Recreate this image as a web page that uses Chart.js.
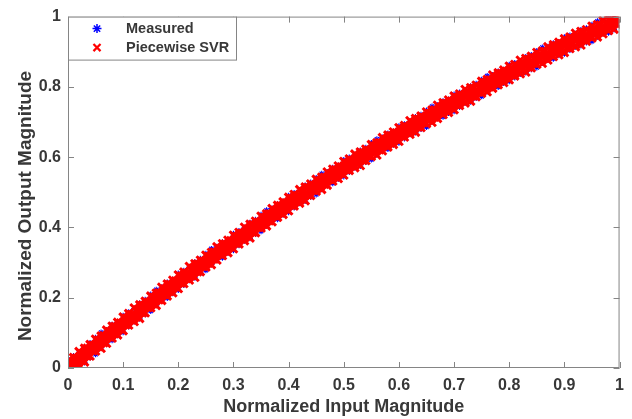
<!DOCTYPE html>
<html><head><meta charset="utf-8">
<script src="https://cdn.jsdelivr.net/npm/chart.js@4/dist/chart.umd.min.js"></script>
<style>html,body{margin:0;padding:0;background:#fff}#wrap{width:632px;height:419px}</style>
</head><body><div id="wrap"><canvas id="c" width="632" height="419"></canvas></div>
<script>
// ---- data ----
const inputMagnitude = [
0.00,0.01,0.02,0.03,0.04,0.05,0.06,0.07,0.08,0.09,
0.10,0.11,0.12,0.13,0.14,0.15,0.16,0.17,0.18,0.19,
0.20,0.21,0.22,0.23,0.24,0.25,0.26,0.27,0.28,0.29,
0.30,0.31,0.32,0.33,0.34,0.35,0.36,0.37,0.38,0.39,
0.40,0.41,0.42,0.43,0.44,0.45,0.46,0.47,0.48,0.49,
0.50,0.51,0.52,0.53,0.54,0.55,0.56,0.57,0.58,0.59,
0.60,0.61,0.62,0.63,0.64,0.65,0.66,0.67,0.68,0.69,
0.70,0.71,0.72,0.73,0.74,0.75,0.76,0.77,0.78,0.79,
0.80,0.81,0.82,0.83,0.84,0.85,0.86,0.87,0.88,0.89,
0.90,0.91,0.92,0.93,0.94,0.95,0.96,0.97,0.98,0.99];

const inputMagnitudeHalf = [
0.005,0.015,0.025,0.035,0.045,0.055,0.065,0.075,0.085,0.095,
0.105,0.115,0.125,0.135,0.145,0.155,0.165,0.175,0.185,0.195,
0.205,0.215,0.225,0.235,0.245,0.255,0.265,0.275,0.285,0.295,
0.305,0.315,0.325,0.335,0.345,0.355,0.365,0.375,0.385,0.395,
0.405,0.415,0.425,0.435,0.445,0.455,0.465,0.475,0.485,0.495,
0.505,0.515,0.525,0.535,0.545,0.555,0.565,0.575,0.585,0.595,
0.605,0.615,0.625,0.635,0.645,0.655,0.665,0.675,0.685,0.695,
0.705,0.715,0.725,0.735,0.745,0.755,0.765,0.775,0.785,0.795,
0.805,0.815,0.825,0.835,0.845,0.855,0.865,0.875,0.885,0.895,
0.905,0.915,0.925,0.935,0.945,0.955,0.965,0.975,0.985,0.995];

const measuredUpper = [
0.024,0.034,0.045,0.060,0.071,0.086,0.101,0.108,0.123,0.131,
0.149,0.159,0.169,0.184,0.194,0.209,0.223,0.230,0.243,0.251,
0.269,0.277,0.287,0.301,0.311,0.325,0.339,0.345,0.358,0.365,
0.382,0.390,0.399,0.413,0.422,0.436,0.449,0.454,0.467,0.474,
0.490,0.498,0.506,0.519,0.528,0.541,0.553,0.558,0.570,0.576,
0.592,0.599,0.607,0.619,0.627,0.640,0.651,0.656,0.667,0.673,
0.688,0.694,0.702,0.714,0.721,0.733,0.744,0.748,0.759,0.764,
0.778,0.784,0.791,0.802,0.809,0.820,0.831,0.834,0.844,0.849,
0.863,0.868,0.874,0.885,0.891,0.902,0.912,0.914,0.924,0.928,
0.941,0.946,0.951,0.962,0.967,0.977,0.987,0.989,0.995,0.997];

const measuredLower = [
0.000,0.001,0.008,0.016,0.030,0.039,0.057,0.071,0.079,0.093,
0.102,0.118,0.132,0.140,0.153,0.162,0.179,0.193,0.199,0.213,
0.222,0.236,0.250,0.257,0.270,0.278,0.295,0.308,0.314,0.327,
0.335,0.349,0.362,0.369,0.381,0.389,0.405,0.417,0.423,0.436,
0.443,0.457,0.469,0.475,0.487,0.494,0.509,0.521,0.526,0.538,
0.545,0.558,0.570,0.575,0.586,0.593,0.607,0.619,0.623,0.635,
0.641,0.653,0.665,0.670,0.680,0.686,0.700,0.711,0.715,0.726,
0.731,0.743,0.754,0.758,0.768,0.773,0.787,0.797,0.800,0.811,
0.816,0.827,0.837,0.841,0.850,0.855,0.868,0.877,0.880,0.890,
0.894,0.905,0.914,0.918,0.926,0.930,0.943,0.952,0.954,0.963];

const svrUpper = [
0.020,0.030,0.047,0.056,0.067,0.082,0.091,0.108,0.119,0.130,
0.145,0.155,0.171,0.180,0.190,0.205,0.213,0.230,0.239,0.250,
0.265,0.273,0.289,0.297,0.307,0.321,0.329,0.345,0.354,0.364,
0.378,0.386,0.401,0.409,0.418,0.432,0.439,0.454,0.463,0.473,
0.486,0.494,0.508,0.515,0.524,0.537,0.543,0.558,0.566,0.575,
0.588,0.595,0.609,0.615,0.623,0.636,0.641,0.656,0.663,0.672,
0.684,0.690,0.704,0.710,0.717,0.729,0.734,0.748,0.755,0.763,
0.774,0.780,0.793,0.798,0.805,0.816,0.821,0.834,0.840,0.848,
0.859,0.864,0.876,0.881,0.887,0.898,0.902,0.914,0.920,0.927,
0.937,0.942,0.953,0.958,0.963,0.973,0.977,0.989,0.993,0.996];

const svrMiddle = [
0.000,0.013,0.026,0.038,0.051,0.063,0.076,0.088,0.101,0.113,
0.125,0.138,0.150,0.162,0.174,0.186,0.198,0.210,0.221,0.233,
0.245,0.256,0.268,0.279,0.291,0.302,0.314,0.325,0.336,0.347,
0.358,0.369,0.380,0.391,0.402,0.413,0.424,0.434,0.445,0.456,
0.466,0.477,0.487,0.497,0.508,0.518,0.528,0.538,0.548,0.558,
0.568,0.578,0.588,0.597,0.607,0.617,0.626,0.636,0.645,0.655,
0.664,0.673,0.683,0.692,0.701,0.710,0.719,0.728,0.737,0.746,
0.754,0.763,0.772,0.780,0.789,0.797,0.806,0.814,0.822,0.831,
0.839,0.847,0.855,0.863,0.871,0.879,0.887,0.894,0.902,0.910,
0.917,0.925,0.932,0.940,0.947,0.954,0.962,0.969,0.976,0.983];

const svrLower = [
0.000,0.002,0.008,0.017,0.034,0.048,0.056,0.070,0.085,0.094,
0.106,0.122,0.132,0.141,0.157,0.171,0.178,0.192,0.205,0.214,
0.226,0.240,0.250,0.258,0.274,0.287,0.294,0.307,0.320,0.328,
0.339,0.353,0.362,0.370,0.385,0.398,0.404,0.416,0.429,0.437,
0.447,0.461,0.469,0.476,0.491,0.503,0.508,0.520,0.532,0.539,
0.549,0.562,0.570,0.576,0.590,0.602,0.606,0.618,0.629,0.636,
0.645,0.657,0.665,0.671,0.684,0.695,0.699,0.710,0.721,0.727,
0.735,0.747,0.754,0.759,0.772,0.782,0.786,0.796,0.806,0.812,
0.820,0.831,0.837,0.842,0.854,0.864,0.867,0.876,0.886,0.891,
0.898,0.909,0.914,0.919,0.930,0.939,0.942,0.951,0.960,0.964];

const svrInnerUpper = [
0.017,0.028,0.041,0.056,0.064,0.079,0.092,0.103,0.118,0.128,
0.142,0.152,0.165,0.179,0.187,0.201,0.214,0.224,0.238,0.248,
0.261,0.270,0.283,0.296,0.304,0.317,0.330,0.339,0.353,0.362,
0.374,0.383,0.395,0.408,0.415,0.428,0.439,0.448,0.462,0.470,
0.482,0.490,0.501,0.514,0.520,0.532,0.543,0.551,0.564,0.572,
0.583,0.591,0.602,0.613,0.619,0.631,0.641,0.649,0.661,0.669,
0.679,0.686,0.697,0.708,0.713,0.724,0.734,0.741,0.753,0.759,
0.769,0.776,0.785,0.796,0.800,0.811,0.820,0.826,0.838,0.844,
0.853,0.859,0.868,0.878,0.882,0.892,0.901,0.906,0.917,0.923,
0.931,0.937,0.945,0.955,0.958,0.967,0.976,0.981,0.991,0.996];

const svrInnerLower = [
0.000,0.013,0.022,0.034,0.049,0.061,0.072,0.088,0.098,0.111,
0.123,0.137,0.146,0.157,0.172,0.183,0.194,0.209,0.218,0.231,
0.242,0.255,0.264,0.274,0.289,0.299,0.310,0.324,0.333,0.345,
0.355,0.368,0.376,0.386,0.400,0.410,0.419,0.433,0.442,0.453,
0.463,0.475,0.482,0.492,0.505,0.514,0.523,0.536,0.544,0.555,
0.564,0.576,0.583,0.591,0.604,0.613,0.621,0.634,0.641,0.652,
0.660,0.671,0.678,0.686,0.698,0.706,0.714,0.726,0.733,0.742,
0.750,0.761,0.766,0.774,0.785,0.793,0.800,0.811,0.818,0.827,
0.834,0.844,0.849,0.856,0.867,0.874,0.881,0.891,0.897,0.906,
0.912,0.922,0.926,0.933,0.943,0.949,0.956,0.966,0.971,0.979];

const seriesNames = ['Measured', 'Piecewise SVR'];
const xTickLabels = ['0','0.1','0.2','0.3','0.4','0.5','0.6','0.7','0.8','0.9','1'];
const yTickLabels = ['0','0.2','0.4','0.6','0.8','1'];
const xTitle = 'Normalized Input Magnitude';
const yTitle = 'Normalized Output Magnitude';

// ---- styling ----
const FONT = '"Liberation Sans", Arial, Helvetica, sans-serif';
const TEXT = '#383838';
const AXIS = '#858585';
const BLUE = '#0000ff';
const RED = '#ff0000';

const pts = (xs, ys) => xs.map((x, i) => ({x, y: ys[i]}));
const measuredData = pts(inputMagnitude, measuredUpper).concat(pts(inputMagnitude, measuredLower));
const svrData = pts(inputMagnitude, svrUpper).concat(
  pts(inputMagnitude, svrMiddle), pts(inputMagnitude, svrLower),
  pts(inputMagnitudeHalf, svrInnerUpper), pts(inputMagnitudeHalf, svrInnerLower));

const frame = {
  id: 'frame',
  afterDraw(chart) {
    const {ctx, chartArea: a, scales: {x, y}} = chart;
    ctx.save();
    ctx.strokeStyle = AXIS;
    ctx.lineWidth = 1;
    ctx.beginPath();
    x.ticks.forEach(t => {
      const px = Math.round(x.getPixelForValue(t.value)) + 0.5;
      ctx.moveTo(px, a.bottom); ctx.lineTo(px, a.bottom - 6);
      ctx.moveTo(px, a.top); ctx.lineTo(px, a.top + 6);
    });
    y.ticks.forEach(t => {
      const py = Math.round(y.getPixelForValue(t.value)) + 0.5;
      ctx.moveTo(a.left, py); ctx.lineTo(a.left + 6, py);
      ctx.moveTo(a.right, py); ctx.lineTo(a.right - 6, py);
    });
    ctx.stroke();
    ctx.strokeRect(a.left + 0.5, a.top + 0.5, a.right - a.left - 1, a.bottom - a.top - 1);

    // y-axis title
    ctx.save();
    ctx.translate(26, 206);
    ctx.rotate(-Math.PI / 2);
    ctx.font = 'bold 19px ' + FONT;
    ctx.fillStyle = TEXT;
    ctx.textAlign = 'center';
    ctx.textBaseline = 'middle';
    ctx.fillText(yTitle, 0, 0);
    ctx.restore();

    // legend box
    const lx = a.left, ly = a.top, lw = 168, lh = 43;
    ctx.fillStyle = '#ffffff';
    ctx.fillRect(lx, ly, lw, lh);
    ctx.strokeStyle = AXIS;
    ctx.strokeRect(lx + 0.5, ly + 0.5, lw, lh);
    chart.data.datasets.forEach((ds, i) => {
      const cy = ly + 12 + i * 19;
      ctx.strokeStyle = ds.borderColor;
      ctx.fillStyle = ds.borderColor;
      ctx.lineWidth = ds.legendBorderWidth;
      Chart.helpers.drawPoint(ctx, {pointStyle: ds.pointStyle, radius: ds.legendRadius, borderWidth: ds.legendBorderWidth, rotation: 0}, lx + 29, cy);
      ctx.fillStyle = TEXT;
      ctx.font = 'bold 14.5px ' + FONT;
      ctx.textAlign = 'left';
      ctx.textBaseline = 'middle';
      ctx.fillText(ds.label, lx + 58, cy);
    });
    ctx.restore();
  }
};

new Chart(document.getElementById('c'), {
  type: 'scatter',
  data: {
    datasets: [
      {label: seriesNames[0], data: measuredData, order: 1,
       pointStyle: 'star', pointRadius: 3, pointBorderWidth: 1.1,
       legendRadius: 4.5, legendBorderWidth: 1.5,
       borderColor: BLUE, backgroundColor: BLUE, pointHoverRadius: 3},
      {label: seriesNames[1], data: svrData, order: 0,
       pointStyle: 'crossRot', pointRadius: 5.5, pointBorderWidth: 3,
       legendRadius: 5, legendBorderWidth: 2.2,
       borderColor: RED, backgroundColor: RED, pointHoverRadius: 5.5}
    ]
  },
  plugins: [frame],
  options: {
    responsive: false,
    animation: false,
    events: [],
    layout: {padding: {top: 14, right: 10, left: 0, bottom: 0}},
    plugins: {legend: {display: false}, tooltip: {enabled: false}},
    scales: {
      x: {
        type: 'linear', min: 0, max: 1,
        afterFit: s => { s.height = 51; },
        grid: {display: false, drawTicks: false},
        border: {display: false},
        ticks: {stepSize: 0.1, padding: 8, color: TEXT, font: {family: FONT, size: 16, weight: 'bold'},
                callback: (v, i) => xTickLabels[i]},
        title: {display: true, text: xTitle, color: TEXT, font: {family: FONT, size: 18, weight: 'bold'}, padding: {top: 0, bottom: 1}}
      },
      y: {
        type: 'linear', min: 0, max: 1,
        afterFit: s => { s.width = 68; },
        grid: {display: false, drawTicks: false},
        border: {display: false},
        ticks: {stepSize: 0.2, padding: 7, color: TEXT, font: {family: FONT, size: 16, weight: 'bold'},
                callback: (v, i) => yTickLabels[i]}
      }
    }
  }
});
</script>
</body></html>
